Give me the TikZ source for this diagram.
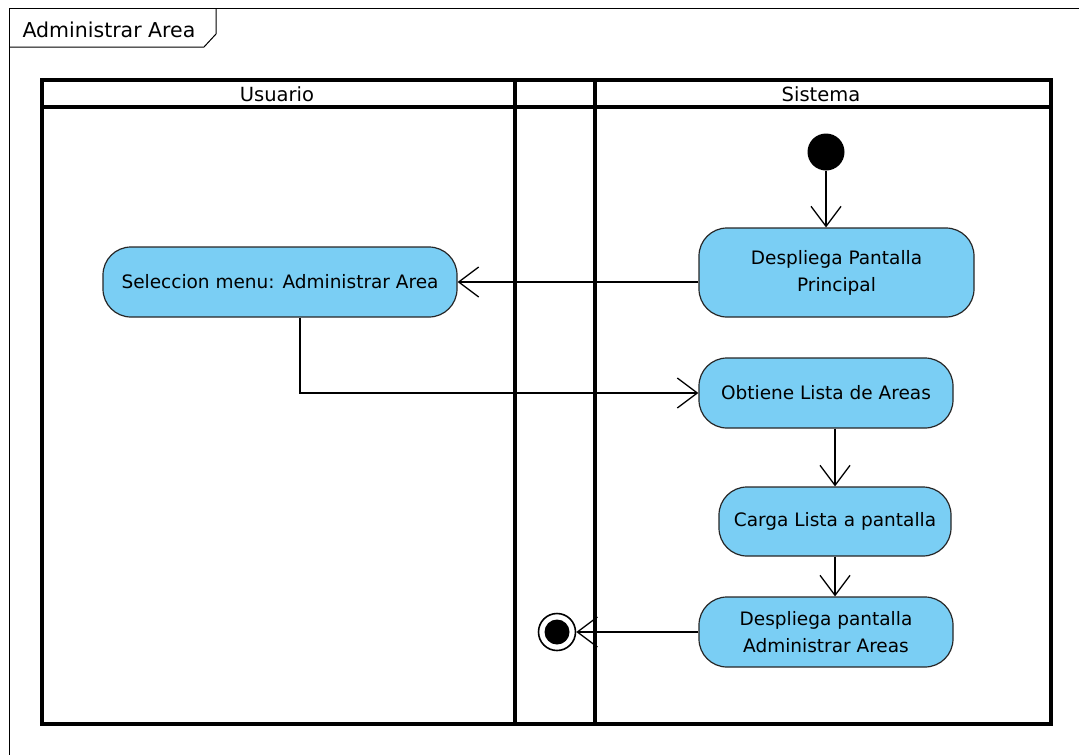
\documentclass[tikz,border=0pt]{standalone}
\usepackage{fontspec}
\setmainfont{DejaVu Sans}
\usetikzlibrary{arrows.meta}
\definecolor{celeste}{RGB}{122,206,244}
\tikzset{
  accion/.style={draw=black!85, fill=celeste, rounded corners=28pt, line width=1.2pt,
    align=center, inner sep=0pt, font=\fontsize{18.5}{27}\selectfont},
  flujo/.style={-{Straight Barb[length=20pt,width=30pt,line width=1.3pt]}, line width=1.2pt},
  carril/.style={line width=3.5pt},
  rotulo/.style={font=\fontsize{19.5}{22}\selectfont},
}
\begin{document}
\begin{tikzpicture}[x=1pt,y=-1pt]
\useasboundingbox (0,0) rectangle (1079,755);

% marco
\draw[line width=1pt] (9,770) -- (9,8) -- (1090,8);
\draw[line width=1pt] (9,47) -- (204,47) -- (216,34) -- (216,8);
\node[rotulo,anchor=west,font=\fontsize{20.5}{22}\selectfont] (titulo) at (19,30) {Administrar Area};

% carriles
\draw[carril] (42,80) rectangle (1051,724);
\draw[carril] (42,107) -- (1051,107);
\draw[carril] (515,80) -- (515,724);
\draw[carril] (595,80) -- (595,724);
\node[rotulo] (usuario) at (277,94) {Usuario};
\node[rotulo] (sistema) at (821,94) {Sistema};

% nodos
\node[circle,fill=black,minimum size=37pt,inner sep=0pt] (inicio) at (826,152) {};
\node[accion,minimum width=275pt,minimum height=89pt] (principal) at (836.5,272.5) {Despliega Pantalla\\Principal};
\node[accion,minimum width=354pt,minimum height=70pt] (seleccion) at (280,282) {Seleccion menu: Administrar Area};
\node[accion,minimum width=254pt,minimum height=70pt] (obtiene) at (826,393) {Obtiene Lista de Areas};
\node[accion,minimum width=232pt,minimum height=69pt] (carga) at (835,521.5) {Carga Lista a pantalla};
\node[accion,minimum width=254pt,minimum height=70pt] (admin) at (826,632) {Despliega pantalla\\Administrar Areas};
\node[circle,draw,line width=1.6pt,minimum size=37pt,inner sep=0pt] (fin) at (557,632) {};
\node[circle,fill=black,minimum size=25pt,inner sep=0pt] (finpunto) at (fin) {};

% flujos
\draw[flujo] (inicio) -- (inicio |- principal.north);
\draw[flujo] (principal.west |- seleccion) -- (seleccion.east);
\draw[flujo] ([xshift=20pt]seleccion.south) |- (obtiene.west);
\draw[flujo] (carga.north |- obtiene.south) -- (carga.north);
\draw[flujo] (carga.south) -- (carga.south |- admin.north);
\draw[flujo] (admin) -- (fin);
\end{tikzpicture}
\end{document}
